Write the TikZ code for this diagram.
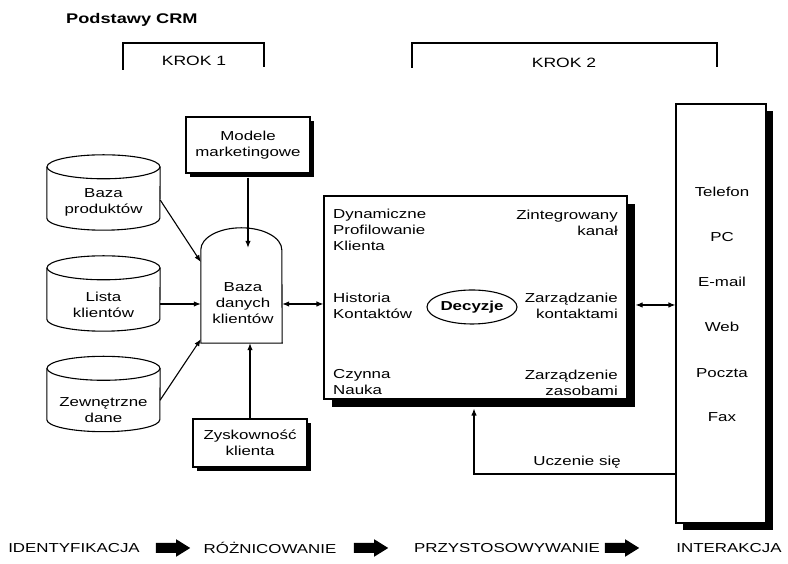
\documentclass[tikz,border=0pt]{standalone}
\usepackage{fontspec}
\setmainfont{Liberation Sans}[FakeStretch=1.3]
\usetikzlibrary{arrows.meta,shadows,shapes.geometric,calc}
\newcommand\drawcyl[1]{%
  \draw[ln] ([yshift=-12pt]#1.north) ellipse [x radius=56.5pt, y radius=12pt];
  \draw[ln] ([yshift=-12pt]#1.north west) -- ([yshift=12pt]#1.south west)
    arc[start angle=180, end angle=360, x radius=56.5pt, y radius=12pt]
    -- ([yshift=-12pt]#1.north east);}
\newcommand\fatarrow[1]{%
  \fill ([yshift=5pt]#1.west) -- ([xshift=-14pt,yshift=5pt]#1.east)
    -- ([xshift=-14pt]#1.north east) -- (#1.east) -- ([xshift=-14pt]#1.south east)
    -- ([xshift=-14pt,yshift=-5pt]#1.east) -- ([yshift=-5pt]#1.west) -- cycle;}
\begin{document}
\begin{tikzpicture}[x=1pt,y=1pt,
  every node/.style={inner sep=0pt, font=\fontsize{13}{16}\selectfont},
  ln/.style={line width=1.1pt},
  arr/.style={ln,-{Latex[length=7pt,width=5.5pt]}},
  darr/.style={ln,{Latex[length=7pt,width=5.5pt]}-{Latex[length=7pt,width=5.5pt]}},
  sbox/.style={draw, line width=1.1pt, fill=white,
    drop shadow={shadow xshift=#1, shadow yshift=-#1, opacity=1, fill=black, shadow scale=1}},
  cylshape/.style={minimum width=113pt, minimum height=75pt},
  arrowslot/.style={minimum width=34pt, minimum height=17pt}
]
\useasboundingbox (0,0) rectangle (788,564);
\fill[white] (0,0) rectangle (788,564);

% title and steps
\node[anchor=west, font=\fontsize{14}{16}\selectfont\bfseries] (title) at (66,544) {Podstawy CRM};
\draw[ln] (123,494) -- (123,521) -- (264,521) -- (264,497);
\node[font=\fontsize{13.5}{16}\selectfont] (krok1) at (194,503) {KROK 1};
\draw[ln] (412,496) -- (412,521) -- (717,521) -- (717,497);
\node[font=\fontsize{13.5}{16}\selectfont] (krok2) at (564,501) {KROK 2};

% source cylinders
\node[cylshape] (prod) at (103.5,371.5) {};
\drawcyl{prod}
\node[align=center] (prodt) at (103.5,362) {Baza\\produktów};
\node[cylshape] (lista) at (103.5,270.5) {};
\drawcyl{lista}
\node[align=center] (listat) at (103.5,259) {Lista\\klientów};
\node[cylshape] (zew) at (103.5,170) {};
\drawcyl{zew}
\node[align=center] (zewt) at (103.5,154) {Zewnętrzne\\dane};

% customer database
\node[minimum width=81pt, minimum height=115pt] (bdk) at (241.5,278.5) {};
\draw[ln, fill=white] ([yshift=-22pt]bdk.north west)
  arc[start angle=180, end angle=0, x radius=40.5pt, y radius=22pt]
  -- (bdk.south east) -- (bdk.south west) -- cycle;
\node[align=center] (bdkt) at (243,261) {Baza\\danych\\klientów};
\coordinate (bdkcap) at ([yshift=-20pt]bdk.north);

% boxes
\node[sbox=4pt, minimum width=124pt, minimum height=56pt, align=center] (mod) at (248,419) {Modele\\marketingowe};
\node[sbox=4pt, minimum width=114pt, minimum height=48pt, align=center] (zysk) at (250,121) {Zyskowność\\klienta};

% main decision box
\node[sbox=8pt, minimum width=303pt, minimum height=203pt] (main) at (475.5,266.5) {};
\node[anchor=west, align=left] (dyn) at (333,334) {Dynamiczne\\Profilowanie\\Klienta};
\node[anchor=east, align=right] (zint) at (618,341.5) {Zintegrowany\\kanał};
\node[anchor=west, align=left] (hist) at (333,258) {Historia\\Kontaktów};
\node[anchor=east, align=right] (zkon) at (618,258) {Zarządzanie\\kontaktami};
\node[anchor=west, align=left] (czyn) at (333,181.5) {Czynna\\Nauka};
\node[anchor=east, align=right] (zzas) at (618,181.5) {Zarządzenie\\zasobami};
\node[ellipse, draw, ln, minimum width=90pt, minimum height=34pt,
  font=\fontsize{13}{16}\selectfont\bfseries] (dec) at (472,257) {Decyzje};

% channel box
\node[sbox=7pt, minimum width=90pt, minimum height=419pt] (chan) at (721,250.5) {};
\node (tel) at (722,372) {Telefon};
\node (pc) at (722,327) {PC};
\node (mail) at (722,282) {E-mail};
\node (web) at (722,237) {Web};
\node (poczta) at (722,191) {Poczta};
\node (fax) at (722,147) {Fax};

% connectors
\draw[arr] ([yshift=-7.5pt]prod.east) -- ([yshift=23.5pt]bdk.west);
\draw[arr] ([yshift=-10.5pt]lista.east) -- ([yshift=-18.5pt]bdk.west);
\draw[arr] ([yshift=-6pt]zew.east) -- ([yshift=4pt]bdk.south west);
\draw[arr] ([yshift=-4pt]mod.south) -- (mod.south |- bdkcap);
\draw[arr] (zysk.north) -- (zysk.north |- bdk.south);
\draw[darr] ([yshift=-18.5pt]bdk.east) -- ([yshift=-18.5pt]bdk.east -| main.west);
\draw[darr] ([xshift=8pt,yshift=-7.5pt]main.east) -- ([yshift=-7.5pt]main.east -| chan.west);
\coordinate (lc) at (474,90);
\draw[arr] (lc -| chan.west) -- (lc) -- ([yshift=-9pt]lc |- main.south);
\node (ucz) at (577,102) {Uczenie się};

% bottom process row
\node (p1) at (74,16) {IDENTYFIKACJA};
\node[arrowslot] (a1) at (173,16) {};
\fatarrow{a1}
\node (p2) at (270,16) {RÓŻNICOWANIE};
\node[arrowslot] (a2) at (371,16) {};
\fatarrow{a2}
\node (p3) at (507,16) {PRZYSTOSOWYWANIE};
\node[arrowslot] (a3) at (622,16) {};
\fatarrow{a3}
\node (p4) at (729,16) {INTERAKCJA};
\end{tikzpicture}
\end{document}
